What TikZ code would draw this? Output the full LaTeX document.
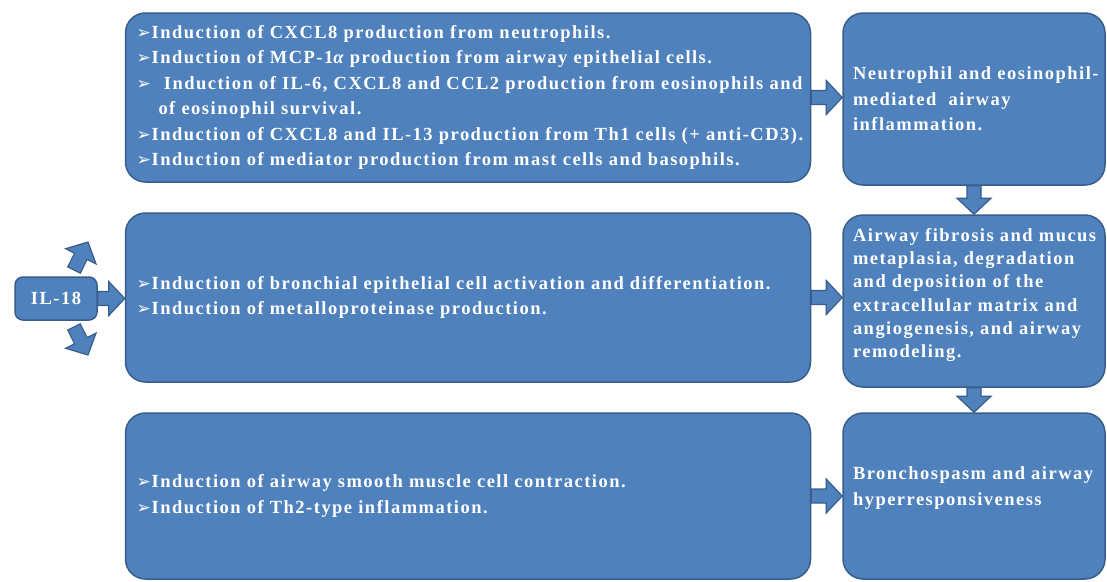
\documentclass[tikz,border=0pt]{standalone}
\usepackage{fontspec}
\setmainfont{Liberation Serif}[LetterSpace=8]
\newfontfamily\bulfont{DejaVu Sans}
\usetikzlibrary{calc, positioning}
\definecolor{boxblue}{RGB}{79,129,189}
\definecolor{boxline}{RGB}{56,93,138}
\newcommand{\bul}{{\bulfont\fontsize{17}{17}\selectfont ➢}\hspace{1pt}}

\begin{document}
\begin{tikzpicture}[x=1pt, y=-1pt,
    box/.style={rounded corners=20pt, draw=boxline, fill=boxblue, line width=1.5pt,
        text=white, font=\bfseries\fontsize{18.5}{25.5}\selectfont, align=left,
        inner xsep=11pt, inner ysep=0pt},
    mid/.style={box, text width=663pt},
    res/.style={box, text width=242pt, inner xsep=10pt},
    blk/.style={draw=boxline, fill=boxblue, line width=1.2pt, rounded corners=0pt,
        to path={($(\tikztostart)!7pt!90:(\tikztotarget)$)
            -- ($(\tikztotarget)!17.46pt!-23.63:(\tikztostart)$)
            -- ($(\tikztotarget)!23.35pt!-46.7:(\tikztostart)$)
            -- (\tikztotarget)
            -- ($(\tikztotarget)!23.35pt!46.7:(\tikztostart)$)
            -- ($(\tikztotarget)!17.46pt!23.63:(\tikztostart)$)
            -- ($(\tikztostart)!7pt!-90:(\tikztotarget)$) -- cycle}}
]
    \useasboundingbox (0,0) rectangle (1107,581);

    % effects of IL-18
    \node[mid, minimum height=169pt] (A) at (468,97.5) {%
        \bul Induction of CXCL8 production from neutrophils.\\
        \bul Induction of MCP-1{\itshape α} production from airway epithelial cells.\\
        \bul\hspace{6pt} Induction of IL-6, CXCL8 and CCL2 production from eosinophils and\\
        \hspace*{22pt}of eosinophil survival.\\
        \bul Induction of CXCL8 and IL-13 production from Th1 cells (+ anti-CD3).\\
        \bul Induction of mediator production from mast cells and basophils.};
    \node[mid, minimum height=169pt] (B) at (468,297.5) {%
        \bul Induction of bronchial epithelial cell activation and differentiation.\\
        \bul Induction of metalloproteinase production.};
    \node[mid, minimum height=166pt] (C) at (468,496) {%
        \bul Induction of airway smooth muscle cell contraction.\\
        \bul Induction of Th2-type inflammation.};

    % outcomes
    \node[res, minimum height=172pt] (R1) at (974,99) {%
        \mbox{Neutrophil and eosinophil-}\\
        mediated \ airway\\
        inflammation.};
    \node[res, minimum height=172pt, font=\bfseries\fontsize{18.5}{23.2}\selectfont] (R2) at (974,301) {%
        \mbox{Airway fibrosis and mucus}\\
        metaplasia, degradation\\
        and deposition of the\\
        \mbox{extracellular matrix and}\\
        \mbox{angiogenesis, and airway}\\
        remodeling.\par\vspace*{12pt}};
    \node[res, minimum height=166pt] (R3) at (974,496) {%
        \mbox{Bronchospasm and airway}\\
        hyperresponsiveness\par\vspace*{16pt}};

    \node[box, rounded corners=8pt, minimum width=82pt, minimum height=43pt,
        inner xsep=0pt, align=center] (il18) at (56,298.5) {IL-18};

    \draw[blk] (A.east) to (A.east -| R1.west);
    \draw[blk] (B.east) to (B.east -| R2.west);
    \draw[blk] (C.east) to (C.east -| R3.west);
    \draw[blk] (R1.south) to (R2.north);
    \draw[blk] (R2.south) to (R3.north);
    \draw[blk] (il18.east) to (il18.east -| B.west);

    \coordinate (up0) at ($(il18)+(18,-28.5)$);
    \coordinate (up1) at ($(il18)+(32,-56.5)$);
    \coordinate (dn0) at ($(il18)+(18,28.5)$);
    \coordinate (dn1) at ($(il18)+(32,56.5)$);
    \draw[blk] (up0) to (up1);
    \draw[blk] (dn0) to (dn1);
\end{tikzpicture}
\end{document}
